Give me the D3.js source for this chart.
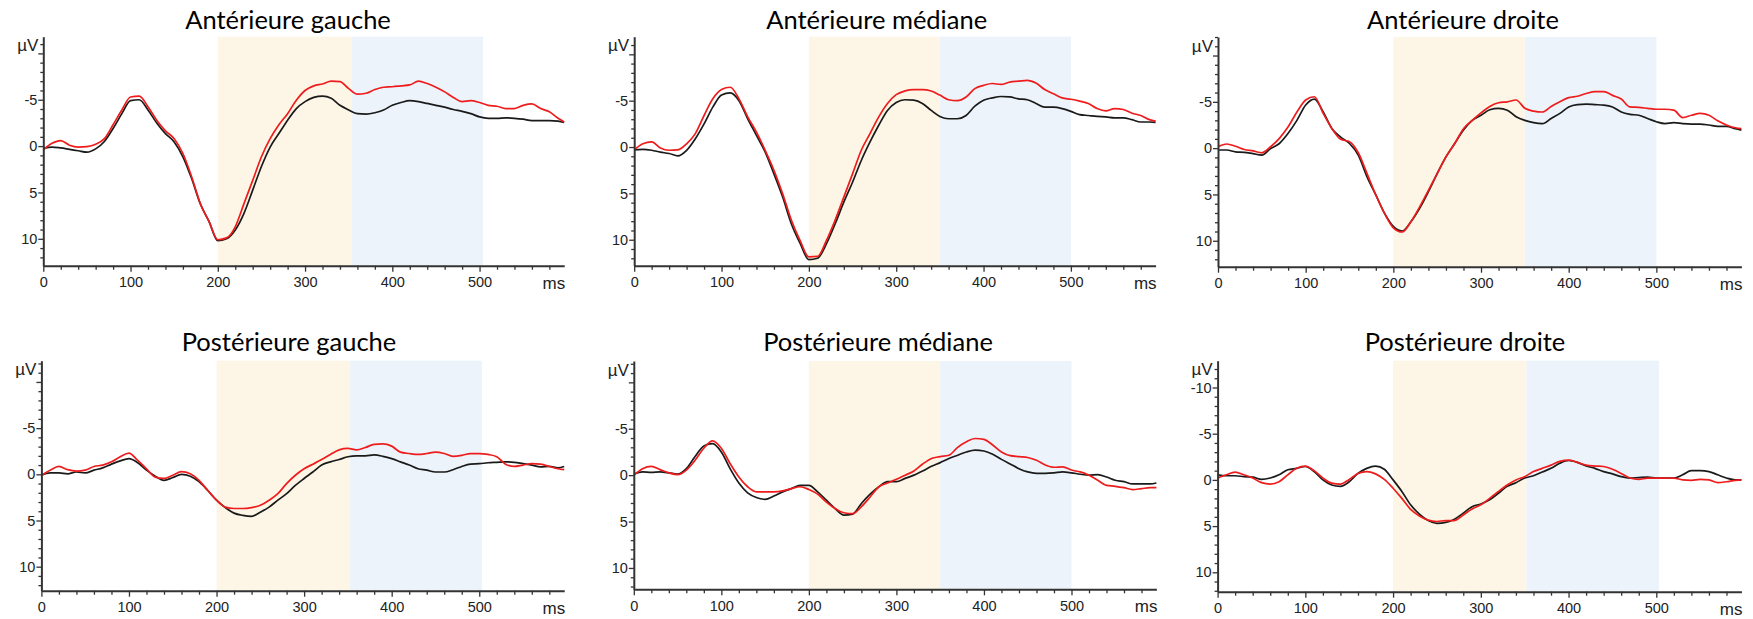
<!DOCTYPE html>
<html><head><meta charset="utf-8">
<script src="https://cdn.jsdelivr.net/npm/d3@7"></script>
<style>body{margin:0;background:#fff}svg{display:block}</style>
</head><body><svg id="chart" width="1753" height="619"></svg>
<script>
// ---------- DATA ----------
const times = [0,10,20,30,40,50,60,70,80,90,100,110,120,130,140,150,160,170,180,190,200,210,220,230,240,250,260,270,280,290,300,310,320,330,340,350,360,370,380,390,400,410,420,430,440,450,460,470,480,490,500,510,520,530,540,550,560,570,580,590,597];

const titles = ["Antérieure gauche","Antérieure médiane","Antérieure droite","Postérieure gauche","Postérieure médiane","Postérieure droite"];

const antGaucheRed = [0.4,-0.3,-0.6,-0.1,0.1,0.05,-0.2,-0.8,-2.3,-3.9,-5.3,-5.4,-4.25,-2.8,-1.65,-0.8,0.8,3.3,6.2,8.15,10.1,9.9,8.7,6.2,3.7,1.15,-0.8,-2.3,-3.5,-4.95,-6.0,-6.5,-6.7,-7.0,-6.95,-6.2,-5.6,-5.7,-6.1,-6.35,-6.4,-6.5,-6.6,-7.0,-6.75,-6.35,-5.85,-5.25,-4.8,-4.9,-4.7,-4.4,-4.3,-4.05,-4.05,-4.4,-4.55,-4.05,-3.7,-3.0,-2.6];
const antGaucheBlack = [0.25,0.1,0.2,0.35,0.5,0.65,0.3,-0.5,-1.9,-3.5,-4.9,-5.0,-3.9,-2.5,-1.35,-0.45,1.15,3.5,6.25,8.15,10.2,10.0,9.05,7.25,4.75,2.2,0.1,-1.35,-2.8,-4.05,-4.8,-5.25,-5.4,-5.15,-4.4,-3.9,-3.5,-3.45,-3.6,-3.9,-4.4,-4.7,-4.9,-4.8,-4.6,-4.4,-4.2,-3.95,-3.75,-3.5,-3.15,-3.0,-3.0,-3.05,-3.0,-2.9,-2.75,-2.75,-2.75,-2.7,-2.55];

const antMedRed = [0.3,-0.35,-0.55,0.1,0.35,0.3,-0.35,-1.45,-3.4,-5.2,-6.2,-6.45,-5.2,-3.25,-1.6,0.35,2.5,5.05,7.9,10.1,11.85,11.8,10.1,7.9,5.4,2.9,0.35,-1.45,-3.25,-4.7,-5.65,-6.05,-6.2,-6.2,-6.05,-5.6,-5.1,-5.0,-5.4,-6.3,-6.65,-6.85,-6.75,-7.0,-7.1,-7.2,-6.9,-6.2,-5.75,-5.3,-5.15,-4.95,-4.7,-4.15,-3.9,-4.15,-4.05,-3.65,-3.4,-2.95,-2.8];
const antMedBlack = [0.3,0.25,0.35,0.55,0.7,0.95,0.35,-0.9,-2.5,-4.3,-5.6,-5.85,-5.0,-3.05,-1.25,0.55,2.9,5.4,8.3,10.4,12.15,12.0,10.45,8.3,5.95,3.8,1.45,-0.55,-2.35,-3.95,-4.8,-5.1,-5.05,-4.7,-3.95,-3.3,-3.05,-3.05,-3.4,-4.4,-5.05,-5.3,-5.45,-5.4,-5.2,-5.1,-4.7,-4.3,-4.3,-4.15,-3.85,-3.5,-3.4,-3.3,-3.25,-3.15,-3.15,-2.95,-2.7,-2.7,-2.65];

const antDroiteRed = [-0.15,-0.45,-0.2,0.15,0.3,0.5,-0.15,-1.05,-2.3,-3.9,-5.2,-5.55,-3.75,-2.1,-0.95,-0.7,0.5,2.75,5.05,7.05,8.6,9.05,7.95,6.35,4.55,2.75,0.95,-0.5,-2.1,-3.0,-3.8,-4.5,-4.9,-5.0,-5.2,-4.3,-4.0,-3.9,-4.5,-5.0,-5.45,-5.6,-5.9,-6.1,-6.1,-5.7,-5.3,-4.45,-4.4,-4.3,-4.2,-4.2,-4.1,-3.3,-3.55,-3.75,-3.55,-2.95,-2.5,-2.2,-2.1];
const antDroiteBlack = [0.2,0.2,0.4,0.45,0.6,0.75,0.05,-0.5,-1.6,-3.0,-4.65,-5.3,-3.9,-2.1,-1.2,-0.5,0.75,3.1,5.05,7.05,8.45,8.95,7.95,6.5,4.7,2.75,0.95,-0.5,-1.95,-3.0,-3.55,-4.15,-4.3,-4.1,-3.4,-3.0,-2.75,-2.65,-3.2,-3.75,-4.45,-4.7,-4.75,-4.7,-4.65,-4.45,-3.9,-3.65,-3.55,-3.2,-2.85,-2.65,-2.75,-2.65,-2.6,-2.6,-2.5,-2.35,-2.35,-2.1,-1.95];

const postGaucheRed = [0.1,-0.45,-0.85,-0.5,-0.35,-0.45,-0.85,-1.0,-1.35,-1.9,-2.3,-1.5,-0.6,0.3,0.45,0.1,-0.3,-0.05,0.65,1.75,2.8,3.55,3.7,3.7,3.6,3.35,2.8,2.1,1.0,0.1,-0.6,-1.1,-1.6,-2.15,-2.65,-2.8,-2.65,-2.9,-3.25,-3.3,-3.05,-2.4,-2.25,-2.15,-2.25,-2.4,-2.25,-1.95,-2.05,-2.25,-2.25,-2.15,-1.9,-1.1,-0.85,-1.0,-1.15,-1.1,-0.85,-0.6,-0.5];
const postGaucheBlack = [0.1,-0.15,-0.15,-0.05,-0.25,-0.15,-0.45,-0.7,-1.1,-1.45,-1.7,-1.25,-0.45,0.2,0.65,0.35,0.0,0.2,0.8,1.75,2.8,3.6,4.2,4.45,4.55,4.1,3.55,2.8,2.1,1.2,0.45,-0.25,-1.0,-1.35,-1.6,-1.9,-2.0,-2.0,-2.1,-1.95,-1.7,-1.35,-1.0,-0.6,-0.45,-0.25,-0.25,-0.5,-0.85,-1.1,-1.15,-1.25,-1.3,-1.35,-1.3,-1.15,-1.0,-0.8,-0.85,-0.7,-0.85];

const postMedRed = [0,-0.7,-0.95,-0.6,-0.25,-0.05,-0.55,-1.6,-2.9,-3.7,-2.9,-1.25,0.2,1.25,1.8,1.8,1.8,1.7,1.45,1.25,1.55,2.05,2.9,3.6,4.05,4.15,3.4,2.35,1.25,0.85,0.45,0.0,-0.45,-1.2,-1.8,-2.0,-2.15,-3.0,-3.6,-3.95,-3.85,-3.25,-2.5,-2.1,-2.0,-1.9,-1.6,-1.1,-0.85,-0.9,-0.55,-0.35,0.0,0.55,1.1,1.2,1.35,1.55,1.45,1.35,1.35];
const postMedBlack = [-0.1,-0.35,-0.3,-0.35,-0.25,-0.1,-0.7,-2.0,-3.15,-3.4,-2.5,-0.7,0.85,1.9,2.4,2.6,2.25,1.8,1.45,1.1,1.1,1.8,2.7,3.6,4.3,4.2,3.05,2.05,1.25,0.7,0.7,0.35,0.0,-0.45,-0.95,-1.35,-1.8,-2.15,-2.5,-2.7,-2.6,-2.25,-1.7,-1.2,-0.7,-0.35,-0.2,-0.2,-0.25,-0.35,-0.25,-0.1,0.0,-0.05,0.2,0.55,0.7,0.95,0.95,0.95,0.85];

const postDroiteRed = [-0.2,-0.55,-0.85,-0.55,-0.2,0.3,0.45,0.2,-0.55,-1.25,-1.5,-1.0,-0.2,0.35,0.45,-0.05,-0.7,-0.9,-0.65,-0.05,0.9,2.0,3.2,3.9,4.35,4.5,4.4,4.4,3.8,3.15,2.7,2.0,1.25,0.55,0.0,-0.35,-0.9,-1.25,-1.6,-2.0,-2.15,-1.9,-1.6,-1.5,-1.45,-1.15,-0.7,-0.2,-0.05,-0.2,-0.2,-0.2,-0.2,0.0,0.05,-0.05,0.0,0.3,0.2,0.05,0.0];
const postDroiteBlack = [-0.55,-0.45,-0.45,-0.35,-0.3,-0.05,-0.2,-0.55,-1.1,-1.25,-1.45,-0.9,0.0,0.55,0.7,0.2,-0.7,-1.25,-1.5,-1.15,0.0,1.25,2.7,3.7,4.4,4.7,4.6,4.25,3.6,2.9,2.6,2.15,1.45,0.7,0.3,-0.2,-0.45,-0.85,-1.25,-1.8,-2.1,-1.9,-1.5,-1.25,-0.9,-0.65,-0.35,-0.2,-0.25,-0.3,-0.2,-0.2,-0.2,-0.55,-1.0,-1.0,-0.9,-0.55,-0.2,0.0,0.0];

// shaded windows (ms): start, middle, end
const bands = [[200,353,504],[200,350,500],[200,350,500],[200,352.5,503],[200,350,500],[200,352,503]];
const yDomains = [[-11.8,12.9],[-11.9,12.8],[-12,12.8],[-12.3,12.6],[-12.3,12.3],[-12.9,12.1]];
const xDomain = [0,597];
const xLabelTicks = [0,100,200,300,400,500];
const yLabelTicks = [[-5,0,5,10],[-5,0,5,10],[-5,0,5,10],[-5,0,5,10],[-5,0,5,10],[-10,-5,0,5,10]];

const redSeries = [antGaucheRed, antMedRed, antDroiteRed, postGaucheRed, postMedRed, postDroiteRed];
const blackSeries = [antGaucheBlack, antMedBlack, antDroiteBlack, postGaucheBlack, postMedBlack, postDroiteBlack];

// ---------- LAYOUT ----------
const boxes = [
  {l:43.3,   r:564.2,  t:36.7, b:265.7},
  {l:634.2,  r:1155.6, t:36.7, b:265.7},
  {l:1218,   r:1741.4, t:37,   b:266.7},
  {l:41.4,   r:564.2,  t:360.7,b:590.7},
  {l:633.8,  r:1156.4, t:361,  b:589.3},
  {l:1217.6, r:1741.4, t:360.7,b:591.7}
];
const titlePos = [[288,28.5],[876.7,28.5],[1463,28.5],[289,351],[878,351],[1465,351]];

const svg = d3.select("#chart");
const tickFont = "'Liberation Sans', Arial, sans-serif";

boxes.forEach((bx, i) => {
  const x = d3.scaleLinear().domain(xDomain).range([bx.l, bx.r]);
  const y = d3.scaleLinear().domain(yDomains[i]).range([bx.t, bx.b]);
  const g = svg.append("g");

  // bands
  const [b0,b1,b2] = bands[i];
  g.append("rect").attr("x", x(b0)).attr("y", bx.t).attr("width", x(b1)-x(b0)).attr("height", bx.b - bx.t).attr("fill", "#fdf6e6");
  g.append("rect").attr("x", x(b1)).attr("y", bx.t).attr("width", x(b2)-x(b1)).attr("height", bx.b - bx.t).attr("fill", "#ecf3fa");

  // lines
  const line = d3.line().x((d,k) => x(times[k])).y(d => y(d)).curve(d3.curveMonotoneX);
  g.append("path").datum(blackSeries[i]).attr("d", line).attr("fill","none").attr("stroke","#1a1a1a").attr("stroke-width",1.7);
  g.append("path").datum(redSeries[i]).attr("d", line).attr("fill","none").attr("stroke","#ee1c1c").attr("stroke-width",1.7);

  // x axis
  const xMinor = d3.range(0, xDomain[1] + 0.1, 20);
  const xa = g.append("g").attr("transform", `translate(0,${bx.b})`)
    .call(d3.axisBottom(x).tickValues(xMinor).tickSize(4).tickSizeOuter(0)
      .tickFormat(d => xLabelTicks.includes(d) ? d : ""));
  xa.select(".domain").attr("stroke","#333").attr("stroke-width",2);
  xa.selectAll(".tick line").attr("stroke","#333").attr("stroke-width",1.3)
    .attr("y2", d => xLabelTicks.includes(d) ? 6 : 4);
  xa.selectAll(".tick text").attr("y", 11).attr("fill","#222")
    .style("font-family", tickFont).style("font-size","14.5px");

  // y axis
  const yMinor = d3.range(Math.ceil(yDomains[i][0]), Math.floor(yDomains[i][1]) + 1, 1);
  const ya = g.append("g").attr("transform", `translate(${bx.l},0)`)
    .call(d3.axisLeft(y).tickValues(yMinor).tickSize(3).tickSizeOuter(0)
      .tickFormat(d => yLabelTicks[i].includes(d) ? d : ""));
  ya.select(".domain").attr("stroke","#333").attr("stroke-width",2);
  ya.selectAll(".tick line").attr("stroke","#333").attr("stroke-width",1.3)
    .attr("x2", d => d % 5 === 0 ? -5 : -3);
  ya.selectAll(".tick text").attr("x", -6).attr("fill","#222")
    .style("font-family", tickFont).style("font-size","14.5px");

  // unit labels
  g.append("text").attr("x", bx.l - 5).attr("y", bx.t + 14.5).attr("text-anchor","end")
    .style("font-family", tickFont).style("font-size","17px").attr("fill","#222").text("µV");
  g.append("text").attr("x", bx.r + 1).attr("y", bx.b + 23).attr("text-anchor","end")
    .style("font-family", tickFont).style("font-size","17px").attr("fill","#222").text("ms");

  // title
  svg.append("text").attr("x", titlePos[i][0]).attr("y", titlePos[i][1]).attr("text-anchor","middle")
    .style("font-family","Lato, 'Open Sans', sans-serif").style("font-size","25.5px").attr("fill","#000")
    .text(titles[i]);
});
</script></body></html>
